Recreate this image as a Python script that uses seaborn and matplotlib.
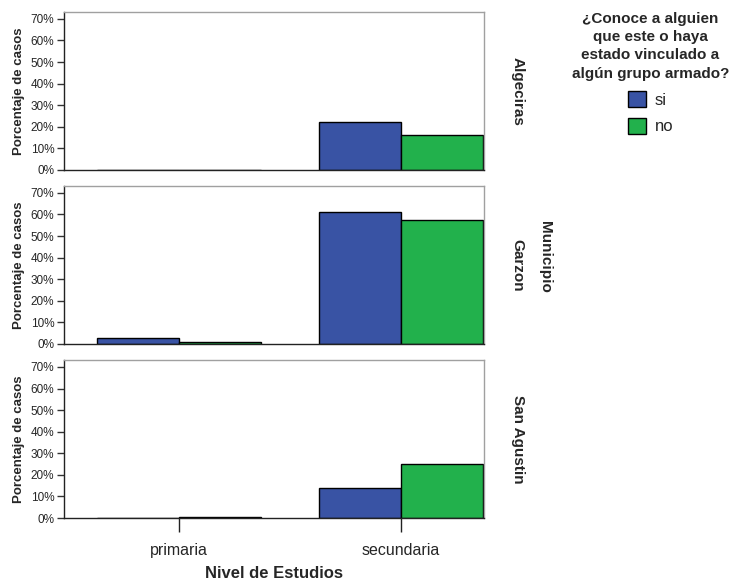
import pandas as pd
import matplotlib.pyplot as plt
import seaborn as sns
from matplotlib.patches import Patch
from matplotlib.ticker import PercentFormatter

# data (percent of cases)
municipios = ["Algeciras", "Garzon", "San Agustin"]
niveles = ["primaria", "secundaria"]
respuestas = ["si", "no"]
algeciras_si = [0.0, 22.2]
algeciras_no = [0.0, 16.2]
garzon_si = [2.6, 61.0]
garzon_no = [1.0, 57.3]
sanagustin_si = [0.0, 13.9]
sanagustin_no = [0.3, 25.0]

rows = []
for mun, si_vals, no_vals in [("Algeciras", algeciras_si, algeciras_no),
                              ("Garzon", garzon_si, garzon_no),
                              ("San Agustin", sanagustin_si, sanagustin_no)]:
    for i, niv in enumerate(niveles):
        rows.append({"Municipio": mun, "Nivel": niv, "Resp": "si", "pct": si_vals[i]})
        rows.append({"Municipio": mun, "Nivel": niv, "Resp": "no", "pct": no_vals[i]})
df = pd.DataFrame(rows)

colores = {"si": "#3953a4", "no": "#22b14c"}

sns.set_style("white")
plt.rcParams['font.family'] = ['Liberation Sans', 'DejaVu Sans']

fig = plt.figure(figsize=(7.35, 5.88), dpi=100)
bottoms = [0.7109, 0.415, 0.119]
h = 0.2687

for k, mun in enumerate(municipios):
    ax = fig.add_axes([0.0871, bottoms[k], 0.5714, h])
    sns.barplot(data=df[df["Municipio"] == mun], x="Nivel", y="pct", hue="Resp",
                order=niveles, hue_order=respuestas, palette=colores, width=0.74,
                saturation=1, edgecolor="black", linewidth=1, legend=False, ax=ax)
    ax.set_xlim(-0.518, 1.374)
    ax.set_ylim(0, 73.2)
    ax.set_yticks(range(0, 80, 10))
    ax.yaxis.set_major_formatter(PercentFormatter(decimals=0))
    ax.tick_params(axis="y", labelsize=8.5, length=5, width=1, color="#333333", left=True, pad=2)
    ax.set_ylabel("Porcentaje de casos", fontsize=9.5, fontweight="bold", labelpad=4)
    for s in ["top", "right"]:
        ax.spines[s].set_color("#a0a0a0")
    for s in ["left", "bottom"]:
        ax.spines[s].set_color("#222222")
    for s in ax.spines.values():
        s.set_linewidth(1)
    if k < 2:
        ax.set_xticks([])
        ax.set_xlabel("")
    else:
        ax.tick_params(axis="x", labelsize=11.5, length=10, width=1, color="#222222", bottom=True, pad=8)
        ax.set_xlabel("Nivel de Estudios", fontsize=12, fontweight="bold", labelpad=6)
    ax.text(1.08, 0.5, mun, transform=ax.transAxes, rotation=-90, ha="center", va="center",
            fontsize=11, fontweight="bold")

fig.text(0.742, 0.563, "Municipio", rotation=-90, ha="center", va="center",
         fontsize=11, fontweight="bold")

handles = [Patch(facecolor=colores[r], edgecolor="black", label=r) for r in respuestas]
leg = fig.legend(handles=handles, loc="upper center", bbox_to_anchor=(0.885, 1.0),
                 title="¿Conoce a alguien\nque este o haya\nestado vinculado a\nalgún grupo armado?",
                 frameon=False, fontsize=12, title_fontproperties={"weight": "bold", "size": 11},
                 handlelength=1.1, handleheight=1.1, handletextpad=0.5, labelspacing=0.6,
                 borderaxespad=0.3)
leg.get_title().set_multialignment("center")
leg.get_title().set_linespacing(1.4)

fig.savefig("out.png", dpi=100)
